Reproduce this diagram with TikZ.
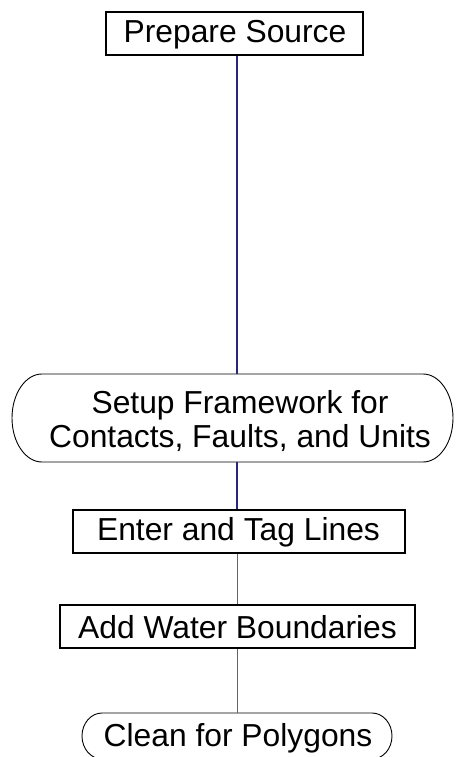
\documentclass[tikz,border=0pt]{standalone}
\usepackage{fontspec}
\setmainfont{Liberation Sans}
\definecolor{navyline}{RGB}{40,40,120}
\definecolor{grayline}{RGB}{100,100,100}
\begin{document}
\begin{tikzpicture}[x=1pt,y=-1pt,
  lbl/.style={font=\fontsize{31.8}{34}\selectfont, align=center, inner sep=0pt},
  stepbox/.style={draw=black, line width=2.6pt, inner sep=0pt},
  capsule/.style={draw=black, line width=0.9pt},
  navylink/.style={draw=navyline, line width=1.3pt},
  graylink/.style={draw=grayline, line width=1pt}]
\useasboundingbox (0,0) rectangle (455,757);
\coordinate (spine) at (237,0);
% rectangle nodes
\node[stepbox, minimum width=257pt, minimum height=43pt] (prep) at (234.5,33.5) {};
\node[lbl] at (235,34.5) {Prepare Source};
\node[stepbox, minimum width=332pt, minimum height=43pt] (enter) at (239,531.5) {};
\node[lbl] at (238.5,532) {Enter and Tag Lines};
\node[stepbox, minimum width=355pt, minimum height=43pt] (water) at (237.5,626.5) {};
\node[lbl] at (237.5,627) {Add Water Boundaries};
% capsule nodes
\node[minimum width=441pt, minimum height=88pt, inner sep=0pt] (setup) at (232.5,418) {};
\draw[capsule] (42,374) -- (423,374) arc[start angle=-90, end angle=90, x radius=30, y radius=44]
  -- (42,462) arc[start angle=90, end angle=270, x radius=30, y radius=44] -- cycle;
\node[lbl] at (240,421) {Setup Framework for\\Contacts, Faults, and Units};
\node[minimum width=310pt, minimum height=46pt, inner sep=0pt] (clean) at (237,736) {};
\draw[capsule] (102,713) -- (372,713) arc[start angle=-90, end angle=90, x radius=20, y radius=23]
  -- (102,759) arc[start angle=90, end angle=270, x radius=20, y radius=23] -- cycle;
\node[lbl] at (238,738.5) {Clean for Polygons};
% connectors
\draw[navylink] (prep.south -| spine) -- (setup.north -| spine);
\draw[navylink] (setup.south -| spine) -- (enter.north -| spine);
\draw[graylink] (enter.south -| spine) -- (water.north -| spine);
\draw[graylink] (water.south -| spine) -- (clean.north -| spine);
\end{tikzpicture}
\end{document}
